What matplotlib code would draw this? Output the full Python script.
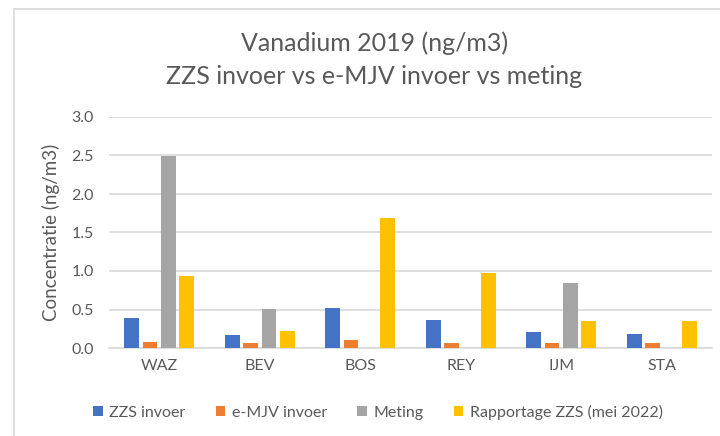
import numpy as np
import matplotlib
matplotlib.use("Agg")
import matplotlib.pyplot as plt
from matplotlib.patches import Rectangle

# data
locaties = ["WAZ", "BEV", "BOS", "REY", "IJM", "STA"]
zzs_invoer = [0.39, 0.17, 0.52, 0.37, 0.21, 0.18]
emjv_invoer = [0.08, 0.06, 0.10, 0.06, 0.06, 0.06]
meting = [2.49, 0.51, np.nan, np.nan, 0.85, np.nan]
rapportage = [0.93, 0.22, 1.69, 0.97, 0.35, 0.35]

series = [
    ("ZZS invoer", zzs_invoer, "#4472C4"),
    ("e-MJV invoer", emjv_invoer, "#ED7D31"),
    ("Meting", meting, "#A5A5A5"),
    ("Rapportage ZZS (mei 2022)", rapportage, "#FFC000"),
]

plt.rcParams["font.family"] = ["Lato", "DejaVu Sans"]
tekst = "#595959"

fig = plt.figure(figsize=(7.2, 4.36), dpi=100)
ax = fig.add_axes([109 / 720, 1 - 348 / 436, (712 - 109) / 720, (348 - 117) / 436])

# rand van het grafiekgebied
fig.patches.append(Rectangle((14 / 720, -0.1), 1.2, 1 - 9 / 436 + 0.1,
                             transform=fig.transFigure, fill=False,
                             edgecolor="#d9d9d9", linewidth=1.2))

x = np.arange(len(locaties))
stap = 0.182
breedte = 0.146
for i, (naam, waarden, kleur) in enumerate(series):
    ax.bar(x + (i - 1.5) * stap, waarden, breedte, color=kleur, label=naam, zorder=3)

ax.set_xlim(-0.5, len(locaties) - 0.5)
ax.set_ylim(0, 3.0)
ax.set_yticks(np.arange(0, 3.01, 0.5))
ax.set_yticklabels([f"{v:.1f}" for v in np.arange(0, 3.01, 0.5)])
ax.set_xticks(x)
ax.set_xticklabels(locaties)
ax.tick_params(axis="both", length=0, colors=tekst, labelsize=11.5)
ax.tick_params(axis="y", pad=11)
ax.tick_params(axis="x", pad=8)
ax.grid(axis="y", color="#d9d9d9", linewidth=1.2, zorder=0)
for s in ["top", "right", "left"]:
    ax.spines[s].set_visible(False)
ax.spines["bottom"].set_color("#d9d9d9")
ax.spines["bottom"].set_linewidth(1.2)

ax.set_ylabel("Concentratie (ng/m3)", color=tekst, fontsize=13.5, labelpad=8)

fig.text(375 / 720, 1 - 43 / 436, "Vanadium 2019 (ng/m3)", ha="center", va="center",
         fontsize=18, color=tekst)
fig.text(374 / 720, 1 - 77 / 436, "ZZS invoer vs e-MJV invoer vs meting", ha="center",
         va="center", fontsize=18, color=tekst)

fig.legend(loc="center", bbox_to_anchor=(378 / 720, 1 - 412 / 436), ncol=4, frameon=False,
           fontsize=11.5, labelcolor=tekst, handlelength=0.6, handleheight=0.6,
           handletextpad=0.4, columnspacing=1.9)

fig.savefig("out.png", dpi=100)
